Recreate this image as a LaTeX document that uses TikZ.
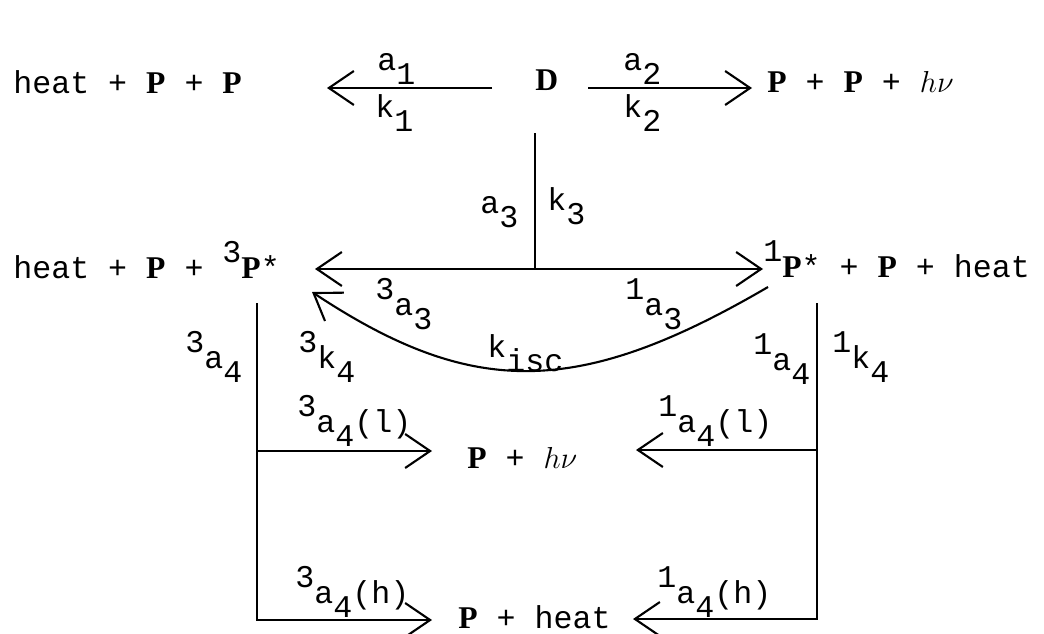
\documentclass[tikz,border=0pt]{standalone}
\usepackage{fontspec}
\setmainfont{Liberation Serif}
\setmonofont{Liberation Mono}
\usetikzlibrary{arrows.meta}
\newcommand\subd[1]{\raisebox{-0.45em}{#1}}
\newcommand\supd[1]{\raisebox{0.5em}{#1}}
\newcommand\bP{{\rmfamily\bfseries P}}
\newcommand\hnu{$h\nu$}

\begin{document}
\begin{tikzpicture}[x=0.2mm,y=-0.2mm,>={Straight Barb[length=5mm,width=6.8mm]},
  every node/.style={inner sep=0pt,anchor=base west,font=\ttfamily\fontsize{18}{21}\selectfont},
  rxn/.style={->,line width=1.2pt},
  bar/.style={line width=1.2pt}]
\useasboundingbox (0,0) rectangle (1044,633);

\node (pp) at (13,93) {heat + \bP{} + \bP};
\node (D) at (535,90) {{\rmfamily\bfseries D}};
\node (pph) at (767,92) {\bP{} + \bP{} + \hnu};
\node (trip) at (13,278) {heat + \bP{} + \supd{3}\bP*};
\node (sing) at (763,277) {\supd{1}\bP* + \bP{} + heat};
\node (lum) at (467,468) {\bP{} + \hnu};
\node (hot) at (458,628) {\bP{} + heat};

\node (a1) at (377,70) {a\subd{1}};
\node (k1) at (375,117) {k\subd{1}};
\node (a2) at (623,70) {a\subd{2}};
\node (k2) at (623,117) {k\subd{2}};
\node (a3) at (480,213) {a\subd{3}};
\node (k3) at (547,210) {k\subd{3}};
\node (ta3) at (375,315) {\supd{3}a\subd{3}};
\node (sa3) at (625,315) {\supd{1}a\subd{3}};
\node (kisc) at (487,357) {k\subd{isc}};
\node (ta4) at (185,368) {\supd{3}a\subd{4}};
\node (tk4) at (298,368) {\supd{3}k\subd{4}};
\node (sa4) at (753,370) {\supd{1}a\subd{4}};
\node (sk4) at (832,368) {\supd{1}k\subd{4}};
\node (tal) at (297,432) {\supd{3}a\subd{4}(l)};
\node (sal) at (658,432) {\supd{1}a\subd{4}(l)};
\node (tah) at (295,603) {\supd{3}a\subd{4}(h)};
\node (sah) at (657,603) {\supd{1}a\subd{4}(h)};

\coordinate (d1) at (492,88);
\coordinate (t1) at (327,88);
\coordinate (d2) at (588,88);
\coordinate (t2) at (752,88);
\coordinate (dtop) at (535,133);
\coordinate (j3) at (535,269);
\coordinate (t3) at (315,269);
\coordinate (s3) at (763,269);
\coordinate (iscA) at (768,287);
\coordinate (iscB) at (312,292);
\coordinate (ttop) at (257,303);
\coordinate (tmid) at (257,451);
\coordinate (lumL) at (432,451);
\coordinate (hotL) at (432,620);
\coordinate (stop) at (817,303);
\coordinate (smid) at (817,450);
\coordinate (lumR) at (636,450);
\coordinate (hotR) at (633,619);

\draw[rxn] (d1) -- (t1);
\draw[rxn] (d2) -- (t2);
\draw[bar] (dtop) -- (j3);
\draw[rxn] (j3) -- (t3);
\draw[rxn] (j3) -- (s3);
\draw[rxn] (iscA) .. controls (578,398) and (472,398) .. (iscB);
\draw[rxn] (ttop) |- (hotL);
\draw[rxn] (tmid) -- (lumL);
\draw[rxn] (stop) |- (hotR);
\draw[rxn] (smid) -- (lumR);
\end{tikzpicture}
\end{document}
